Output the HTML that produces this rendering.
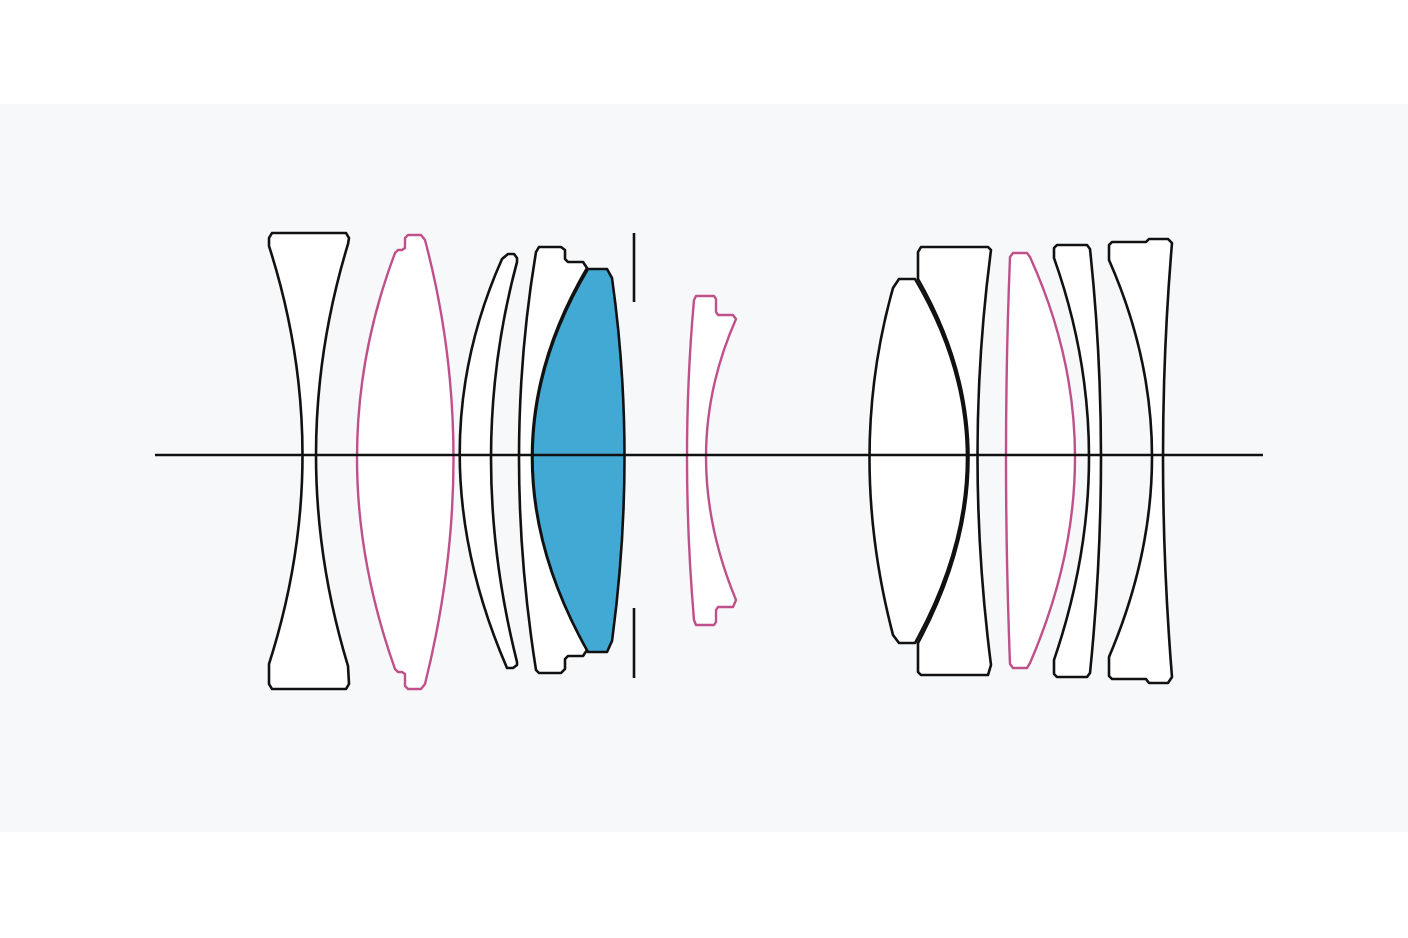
<!DOCTYPE html>
<html><head><meta charset="utf-8"><style>html,body{margin:0;padding:0;background:#fff}svg{display:block}</style></head>
<body>
<svg width="1408" height="938" viewBox="0 0 1408 938" xmlns="http://www.w3.org/2000/svg">
<rect x="0" y="0" width="1408" height="938" fill="#ffffff"/>
<rect x="0" y="104" width="1408" height="728" fill="#f7f8fa"/>
<g fill="#ffffff" stroke="#111" stroke-width="2.6" stroke-linejoin="round">
<!-- lens 1 -->
<path d="M272,233 L346,233 L349,238 L348,244 Q284,455 348,666 L349,684 L346,689 L272,689 L269,684 L269,664 Q336,455 269,246 L269,238 Z"/>
<!-- lens 3 -->
<path d="M508,254 L514,254 L517,258 L517,262 Q465,455 517,662 L517,665 L513,668 L507,668 Q415,455 502,259 Z"/>
<!-- lens 4 -->
<path d="M539,247 L561,247 L565,250 L565,259 L568,262 L583,262 L587,268 Q477,455 587,650 L583,656 L568,656 L565,659 L565,669 L561,673 L539,673 L536,670 Q502,455 536,252 Z"/>
<!-- lens 7 -->
<path d="M899,279 L915,279 Q1019,455 915,643 L899,643 L893,635 Q846,455 893,288 Z"/>
<!-- lens 8 -->
<path d="M921,247 L988,247 L991,250 Q964,455 991,665 L988,675 L921,675 L918,672 L918,643 Q1019,455 918,279 L918,252 Z"/>
<!-- lens 10 -->
<path d="M1057,245 L1087,245 L1090,249 Q1112,455 1090,673 L1087,677 L1057,677 L1054,674 L1054,660 Q1124,455 1054,258 L1054,248 Z"/>
<!-- lens 11 -->
<path d="M1112,242 L1146,242 L1149,239 L1168,239 L1172,243 Q1154,455 1172,677 L1168,683 L1149,683 L1146,679 L1112,679 L1109,676 L1109,657 Q1195,455 1109,260 L1109,245 Z"/>
</g>
<!-- blue lens -->
<path d="M590,269 L607,269 L612,278 Q637,455 612,641 L607,652 L588,652 Q477,455 588,269 Z" fill="#42a8d4" stroke="#111" stroke-width="2.6" stroke-linejoin="round"/>
<g fill="#ffffff" stroke="#c0508a" stroke-width="2.4" stroke-linejoin="round">
<!-- lens 2 -->
<path d="M408,235 L421,235 L425,240 Q482,455 425,684 L421,689 L408,689 L405,686 L405,674 L402,672 L398,672 L395,669 Q319,455 395,253 L398,250 L402,250 L405,248 L405,238 Z"/>
<!-- lens 6 -->
<path d="M696,296 L714,296 L716,299 L716,312 L718,315 L733,315 L736,319 Q676,455 736,600 L733,607 L718,607 L716,610 L716,622 L714,625 L696,625 L694,620 Q680,455 694,300 Z"/>
<!-- lens 9 -->
<path d="M1013,253 L1027,253 L1030,257 Q1120,455 1030,663 L1027,668 L1013,668 L1010,664 Q1002,455 1010,257 Z"/>
</g>
<g stroke="#111" stroke-width="2.6">
<line x1="155" y1="455" x2="1263" y2="455"/>
<line x1="634" y1="233" x2="634" y2="302"/>
<line x1="634" y1="608" x2="634" y2="678"/>
</g>
</svg>
</body></html>
